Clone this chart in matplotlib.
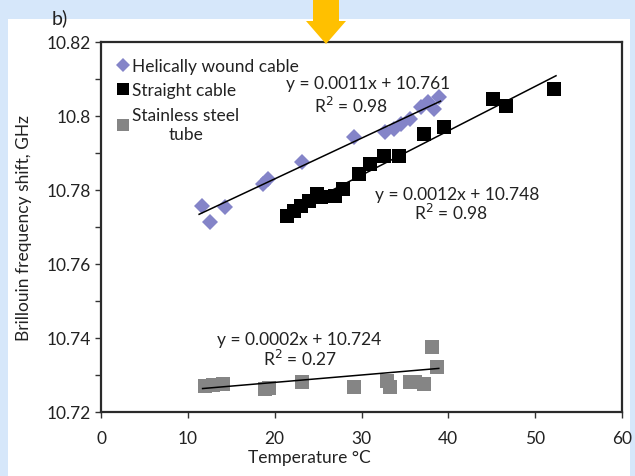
import matplotlib
matplotlib.use("Agg")
import matplotlib.pyplot as plt
from matplotlib.patches import Rectangle, FancyArrow
import numpy as np

# Helically wound cable
helix_t = [11.6, 12.6, 14.3, 18.7, 19.2, 23.1, 29.1, 32.7, 33.7, 34.5, 35.6, 36.8, 37.7, 38.4, 38.9]
helix_v = [10.7758, 10.7713, 10.7753, 10.7816, 10.7830, 10.7875, 10.7942, 10.7957, 10.7965,
           10.7978, 10.7992, 10.8024, 10.8038, 10.8018, 10.8051]

# Straight cable
straight_t = [21.4, 22.2, 23.0, 23.9, 24.9, 25.3, 27.0, 27.9, 29.7, 31.0, 32.6, 34.3, 37.2, 39.5,
              45.1, 46.6, 52.2]
straight_v = [10.7731, 10.7744, 10.7758, 10.7771, 10.7789, 10.7780, 10.7785, 10.7803, 10.7843,
              10.7870, 10.7893, 10.7893, 10.7951, 10.7969, 10.8046, 10.8028, 10.8073]

# Stainless steel tube
steel_t = [12.0, 12.9, 14.1, 18.9, 19.4, 23.1, 29.1, 32.9, 33.3, 35.6, 36.2, 37.2, 38.1, 38.7]
steel_v = [10.7271, 10.7273, 10.7276, 10.7262, 10.7264, 10.7280, 10.7267, 10.7285, 10.7267,
           10.7282, 10.7280, 10.7276, 10.7375, 10.7321]

# trendline coefficients (slope, intercept) as printed
helix_fit = (0.0011, 10.761)
straight_fit = (0.0012, 10.748)
steel_fit = (0.0002, 10.724)

plt.rcParams['font.family'] = ['Lato', 'DejaVu Sans']

fig = plt.figure(figsize=(6.35, 4.77), dpi=100, facecolor='#D6E7FA')
# white panel behind everything
fig.patches.append(Rectangle((8 / 635, 0), 622 / 635, 1 - 20 / 477, transform=fig.transFigure,
                             facecolor='white', edgecolor='none', zorder=-5))
# orange arrow on top
fig.patches.append(FancyArrow(326 / 635, 1.0, 0, -45 / 477, width=26 / 635, head_width=40 / 635,
                              head_length=23 / 477, length_includes_head=True,
                              transform=fig.transFigure, facecolor='#FFC000', edgecolor='none',
                              zorder=5))

ax = fig.add_axes([101 / 635, 1 - 413 / 477, 521 / 635, 370 / 477])
ax.set_facecolor('none')

h1, = ax.plot(helix_t, helix_v, 'D', color='#8484C8', markersize=8, markeredgewidth=0,
              label='Helically wound cable')
h2, = ax.plot(straight_t, straight_v, 's', color='black', markersize=9.5, markeredgewidth=0,
              label='Straight cable')
h3, = ax.plot(steel_t, steel_v, 's', color='#858585', markersize=9.5, markeredgewidth=0,
              label='Stainless steel\ntube')

for t, (m, b) in [(helix_t, helix_fit), (straight_t, straight_fit), (steel_t, steel_fit)]:
    xs = np.array([min(t) - 0.3, max(t) + 0.2])
    ax.plot(xs, m * xs + b, color='black', lw=1.1)

ax.set_xlim(0, 60)
ax.set_ylim(10.72, 10.82)
ax.set_xticks(np.arange(0, 61, 10))
ax.set_yticks([10.72, 10.74, 10.76, 10.78, 10.8, 10.82])
ax.set_yticklabels(['10.72', '10.74', '10.76', '10.78', '10.8', '10.82'])
ax.set_yticks(np.arange(10.72, 10.821, 0.01), minor=True)
ax.tick_params(axis='both', which='both', direction='out', length=4, width=1, color='#333333',
               labelsize=12.5, labelcolor='#222222')
ax.tick_params(axis='x', pad=9)
for s in ax.spines.values():
    s.set_color('#2a2a2a')
    s.set_linewidth(1.6)

ax.set_xlabel('Temperature °C', fontsize=12.5, color='#222222', labelpad=2, x=0.40)
ax.set_ylabel('Brillouin frequency shift, GHz', fontsize=12.5, color='#222222', labelpad=10)

leg = ax.legend(handles=[h1, h2, h3], loc='upper left', frameon=False, fontsize=12.5,
                handlelength=0.7, handletextpad=0.2, borderaxespad=0.5, labelspacing=0.5,
                markerscale=0.9)
for txt in leg.get_texts():
    txt.set_multialignment('center')
    txt.set_color('#222222')

ax.text(30.8, 10.8088, 'y = 0.0011x + 10.761', ha='center', va='center', fontsize=12.5, color='#222222')
ax.text(28.8, 10.8031, 'R$^2$ = 0.98', ha='center', va='center', fontsize=12.5, color='#222222')
ax.text(41.0, 10.7790, 'y = 0.0012x + 10.748', ha='center', va='center', fontsize=12.5, color='#222222')
ax.text(40.3, 10.7741, 'R$^2$ = 0.98', ha='center', va='center', fontsize=12.5, color='#222222')
ax.text(22.8, 10.7396, 'y = 0.0002x + 10.724', ha='center', va='center', fontsize=12.5, color='#222222')
ax.text(22.9, 10.7345, 'R$^2$ = 0.27', ha='center', va='center', fontsize=12.5, color='#222222')

fig.text(52 / 635, 1 - 18 / 477, 'b)', fontsize=14, color='#222222', va='center', ha='left')

fig.savefig('out.png', dpi=100, facecolor=fig.get_facecolor())
